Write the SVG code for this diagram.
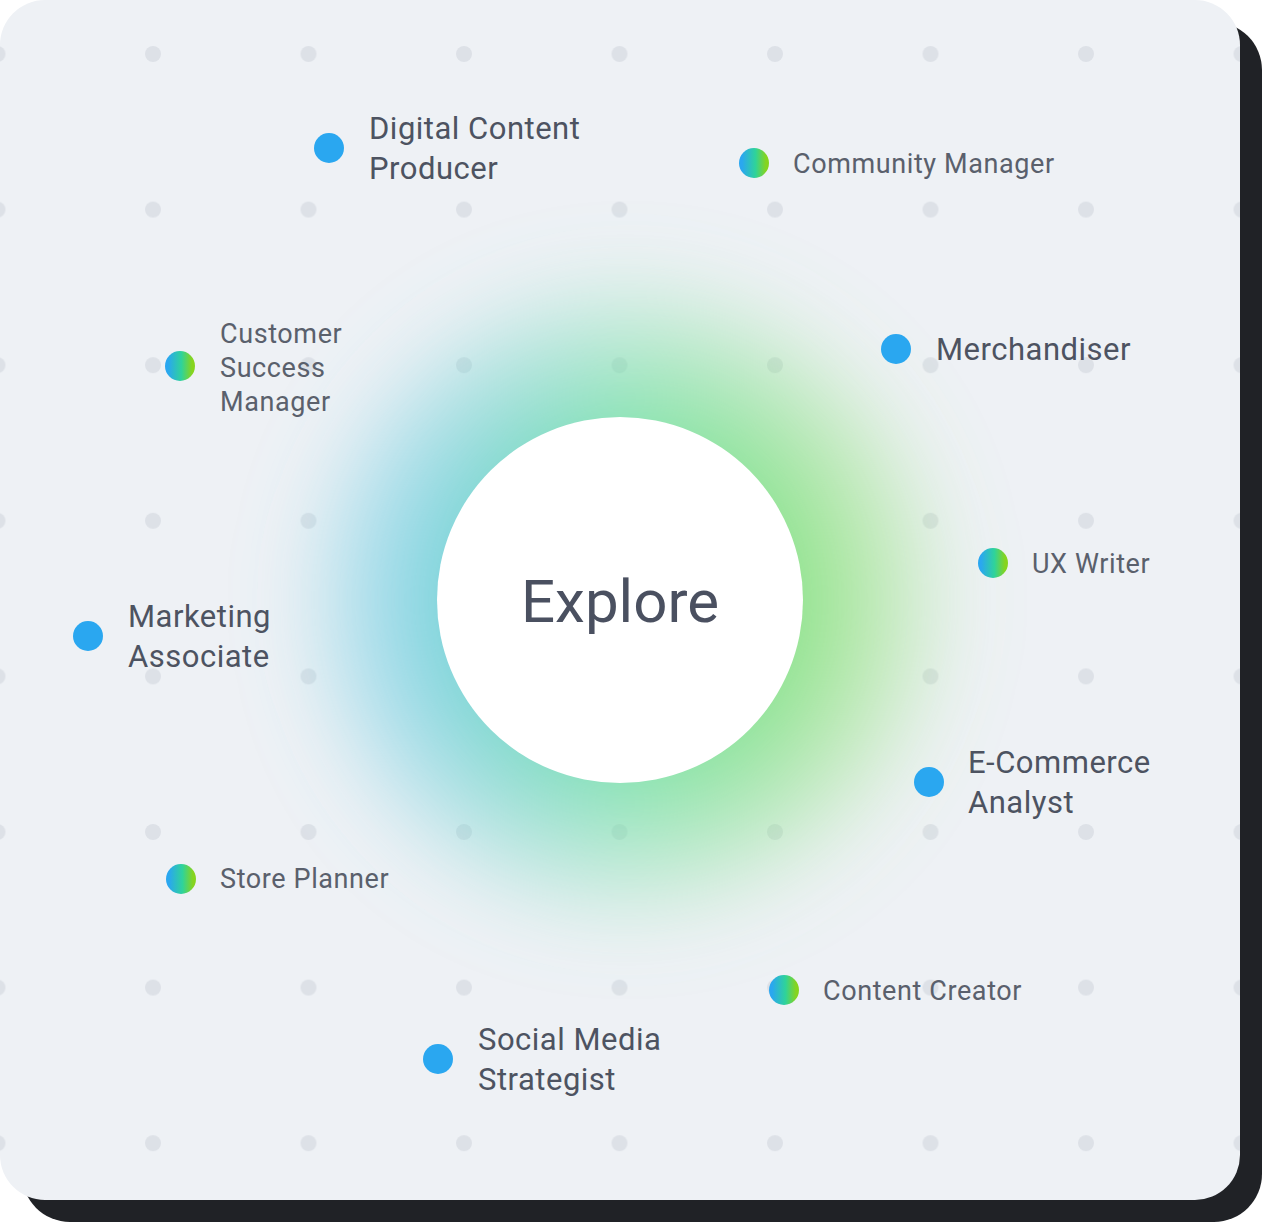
<svg xmlns="http://www.w3.org/2000/svg" width="1262" height="1222" viewBox="0 0 1262 1222">
<defs>
<style>
.lg{font-family:Roboto,"Liberation Sans",sans-serif;font-size:31px;fill:#4d5361;letter-spacing:0.5px}
.sm{font-family:Roboto,"Liberation Sans",sans-serif;font-size:27px;fill:#5a606c;letter-spacing:0.6px}
.bd{fill:#2aa7f0}
.gd{fill:url(#dg)}
.gr{fill:#dde1e7}
</style>
<linearGradient id="dg" x1="0" y1="0" x2="1" y2="0"><stop offset="0.1" stop-color="#2aa7f0"/><stop offset="0.55" stop-color="#2fd39a"/><stop offset="0.9" stop-color="#86d41e"/></linearGradient>
<linearGradient id="glowCol" x1="0" y1="0" x2="1" y2="0"><stop offset="0.15" stop-color="#5cc8e0"/><stop offset="0.5" stop-color="#6ee0a0"/><stop offset="0.85" stop-color="#7de060"/></linearGradient>
<radialGradient id="fade" cx="0.5" cy="0.5" r="0.5"><stop offset="0.45" stop-color="#fff" stop-opacity="1"/><stop offset="1" stop-color="#fff" stop-opacity="0"/></radialGradient>
<mask id="m"><circle cx="620" cy="600" r="350" fill="url(#fade)"/></mask>
<filter id="bl" x="-50%" y="-50%" width="200%" height="200%"><feGaussianBlur stdDeviation="40"/></filter>
<pattern id="dots" x="75.25" y="-23.8" width="155.5" height="155.6" patternUnits="userSpaceOnUse"><circle cx="77.75" cy="77.8" r="8" class="gr"/></pattern>
</defs>
<rect x="22" y="22" width="1240" height="1200" rx="48" fill="#202226"/>
<rect x="0" y="0" width="1240" height="1200" rx="45" fill="#eef1f5"/>
<rect x="0" y="0" width="1240" height="1200" rx="45" fill="url(#dots)"/>
<g filter="url(#bl)"><circle cx="630" cy="600" r="320" fill="url(#glowCol)" mask="url(#m)" opacity="0.85"/></g>
<g id="center"><circle cx="620" cy="600" r="183" fill="#ffffff"/><text x="620" y="622" text-anchor="middle" font-family="Roboto,'Liberation Sans',sans-serif" font-size="60" fill="#4a5060">Explore</text></g>
<g id="connectors"/>
<g id="n1"><circle cx="329" cy="148" r="15" class="bd"/><text class="lg" x="369" y="139">Digital Content</text><text class="lg" x="369" y="179">Producer</text></g>
<g id="n2"><circle cx="754" cy="163" r="15" class="gd"/><text class="sm" x="793" y="173">Community Manager</text></g>
<g id="n3"><circle cx="180" cy="366" r="15" class="gd"/><text class="sm" x="220" y="343">Customer</text><text class="sm" x="220" y="377">Success</text><text class="sm" x="220" y="411">Manager</text></g>
<g id="n4"><circle cx="896" cy="349" r="15" class="bd"/><text class="lg" x="936" y="360">Merchandiser</text></g>
<g id="n5"><circle cx="993" cy="563" r="15" class="gd"/><text class="sm" x="1032" y="573">UX Writer</text></g>
<g id="n6"><circle cx="88" cy="636" r="15" class="bd"/><text class="lg" x="128" y="627">Marketing</text><text class="lg" x="128" y="667">Associate</text></g>
<g id="n7"><circle cx="929" cy="782" r="15" class="bd"/><text class="lg" x="968" y="773">E-Commerce</text><text class="lg" x="968" y="813">Analyst</text></g>
<g id="n8"><circle cx="181" cy="879" r="15" class="gd"/><text class="sm" x="220" y="888">Store Planner</text></g>
<g id="n9"><circle cx="784" cy="990" r="15" class="gd"/><text class="sm" x="823" y="1000">Content Creator</text></g>
<g id="n10"><circle cx="438" cy="1059" r="15" class="bd"/><text class="lg" x="478" y="1050">Social Media</text><text class="lg" x="478" y="1090">Strategist</text></g>
</svg>
